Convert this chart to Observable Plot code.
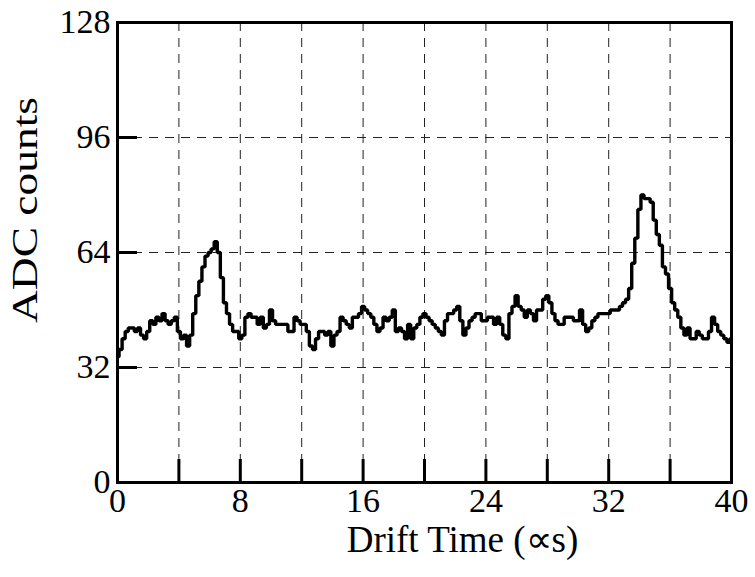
<!DOCTYPE html>
<html>
<head>
<meta charset="utf-8">
<script src="https://cdn.jsdelivr.net/npm/d3@7"></script>
<script src="https://cdn.jsdelivr.net/npm/@observablehq/plot@0.6"></script>
<style>
  html, body { margin: 0; padding: 0; background: white; }
</style>
</head>
<body>
<div id="chart"></div>
<script>
// Sample spacing of the trace (µs)
const sampleStep = 0.2;
// ADC counts, one value per sample from 0 to 40 µs
const adcCounts = [
  35, 37, 40, 42, 43, 43, 42, 43, 41, 40,
  42, 45, 44, 46, 45, 47, 45, 44, 45, 46,
  42, 40, 41, 38, 41, 47, 52, 56, 60, 63,
  64, 65, 67, 64, 57, 50, 47, 44, 42, 42,
  40, 41, 46, 47, 46, 46, 44, 46, 43, 44,
  48, 45, 44, 44, 44, 44, 42, 42, 46, 45,
  44, 44, 42, 38, 37, 40, 42, 42, 41, 42,
  38, 41, 42, 46, 45, 44, 43, 46, 46, 47,
  49, 48, 47, 46, 44, 42, 43, 46, 45, 46,
  48, 42, 43, 42, 40, 44, 40, 43, 44, 46,
  47, 46, 45, 44, 43, 42, 41, 45, 47, 47,
  48, 49, 45, 41, 43, 45, 46, 47, 47, 45,
  45, 46, 46, 44, 46, 44, 41, 40, 47, 49,
  52, 49, 48, 46, 48, 47, 45, 48, 48, 51,
  52, 50, 47, 45, 44, 44, 46, 46, 46, 45,
  45, 48, 44, 42, 43, 45, 46, 47, 47, 47,
  47, 48, 48, 48, 49, 50, 51, 54, 61, 68,
  76, 80, 79, 79, 78, 73, 69, 66, 60, 58,
  54, 50, 48, 46, 43, 41, 43, 40, 40, 42,
  41, 40, 40, 42, 46, 44, 42, 41, 40, 39,
  40
];
const xTickLabels = [0, 8, 16, 24, 32, 40];
const xGrid = [4, 8, 12, 16, 20, 24, 28, 32, 36];
const yTickLabels = [0, 32, 64, 96, 128];
const yGrid = [32, 64, 96];
const xLabel = "Drift Time (\u221Ds)";
const yLabel = "ADC counts";

const chart = Plot.plot({
  width: 755,
  height: 577,
  marginLeft: 117,
  marginRight: 24,
  marginTop: 22,
  marginBottom: 95,
  style: {fontFamily: "'Liberation Serif', 'Times New Roman', serif", fontSize: "34px", background: "white", color: "black"},
  x: {domain: [0, 40]},
  y: {domain: [0, 128]},
  marks: [
    Plot.ruleX(xGrid, {stroke: "#222", strokeWidth: 1, strokeDasharray: "9,7"}),
    Plot.ruleY(yGrid, {stroke: "#222", strokeWidth: 1, strokeDasharray: "9,7"}),
    Plot.ruleX(xGrid, {stroke: "black", strokeWidth: 3, insetTop: 437}),
    Plot.ruleY(yGrid, {stroke: "black", strokeWidth: 3, insetRight: 594}),
    Plot.axisX({ticks: xTickLabels, tickSize: 0, tickPadding: 5, label: null, fontSize: 34}),
    Plot.axisY({ticks: yTickLabels, tickSize: 0, tickPadding: 7, label: null, fontSize: 34}),
    Plot.line(adcCounts, {x: (d, i) => i * sampleStep, y: d => d, curve: "step", stroke: "black", strokeWidth: 3.4, strokeLinejoin: "miter"}),
    Plot.frame({stroke: "black", strokeWidth: 3}),
    Plot.text([xLabel], {text: d => d, frameAnchor: "bottom", dx: 38, dy: 58, fontSize: 37, lineAnchor: "middle", fill: "black"}),
    Plot.text([yLabel], {text: d => d, frameAnchor: "left", rotate: -90, fontSize: 36, fill: "black"})
  ]
});
document.getElementById("chart").appendChild(chart);
d3.select(chart).selectAll("text").filter(function() { return this.textContent === yLabel; })
  .each(function() { d3.select(this.parentNode).attr("transform", null); })
  .attr("x", null).attr("y", null).attr("dy", null)
  .attr("transform", "translate(37,323) rotate(-90)")
  .attr("text-anchor", "start")
  .attr("textLength", 226).attr("lengthAdjust", "spacingAndGlyphs");
</script>
</body>
</html>
